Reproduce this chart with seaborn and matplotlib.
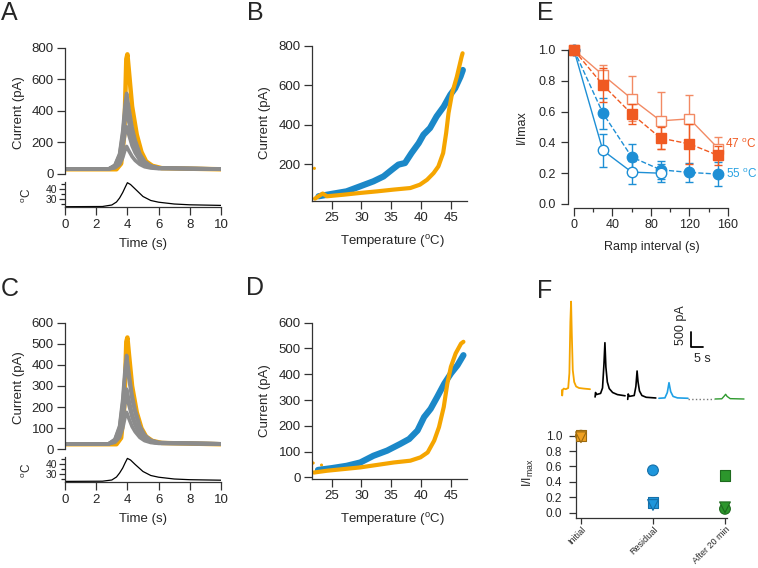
import matplotlib
matplotlib.use("Agg")
import matplotlib.pyplot as plt
import seaborn as sns
from matplotlib.ticker import MultipleLocator

# ---------------- data ----------------
# A: current traces (pA) vs time (s)
t_gray = [0, 2.8, 3.2, 3.5, 3.7, 3.85, 3.95, 4.1, 4.3, 4.5, 4.8, 5.1, 5.5, 6.0, 7.0, 10]
a_gray1 = [32, 32, 56, 128, 272, 440, 512, 416, 296, 214, 128, 80, 51, 39, 37, 32]
a_gray2 = [32, 32, 54, 120, 251, 404, 470, 382, 273, 198, 120, 76, 50, 39, 36, 32]
a_gray3 = [32, 32, 50, 106, 216, 345, 400, 326, 234, 172, 106, 69, 47, 38, 36, 32]
a_gray4 = [32, 32, 45, 86, 166, 260, 300, 246, 179, 134, 86, 59, 43, 36, 35, 32]
a_gray5 = [32, 32, 39, 61, 104, 154, 175, 146, 111, 86, 61, 46, 38, 34, 34, 32]
t_yel = [0, 3.3, 3.6, 3.8, 3.93, 4.0, 4.1, 4.3, 4.6, 4.9, 5.2, 5.6, 6.2, 10]
a_yel = [30, 30, 66, 250, 730, 760, 650, 430, 250, 140, 80, 52, 37, 30]

# C: current traces
c_gray1 = [26, 26, 47, 110, 236, 382, 445, 361, 256, 185, 110, 68, 43, 32, 30, 26]
c_gray2 = [26, 26, 45, 103, 218, 352, 410, 333, 237, 172, 103, 64, 41, 32, 30, 26]
c_gray3 = [26, 26, 39, 78, 156, 246, 285, 233, 168, 124, 78, 52, 36, 30, 29, 26]
c_gray4 = [26, 26, 37, 72, 141, 221, 255, 209, 152, 113, 72, 49, 35, 29, 28, 26]
c_gray5 = [26, 26, 33, 56, 100, 153, 175, 145, 108, 83, 56, 41, 32, 28, 27, 26]
c_yel = [24, 24, 54, 200, 510, 530, 450, 300, 175, 100, 60, 40, 30, 24]

# temperature stimulus (deg C)
t_temp = [0, 2.4, 3.0, 3.3, 3.5, 3.7, 3.85, 4.0, 4.2, 4.5, 5.0, 5.5, 6.0, 7.0, 8.0, 10]
a_temp = [22.3, 22.5, 24, 27, 31, 36.5, 41.5, 46.3, 44.5, 40, 32.5, 28.5, 26.8, 25, 24.2, 23.6]
c_temp = [22.6, 22.8, 24, 27, 31, 36, 41, 45.6, 44, 39.5, 32.5, 28.5, 26.8, 25, 24.3, 23.8]

# B: current vs temperature
b_blue_T = [22.8, 25, 27.5, 29.8, 32, 33.7, 35.1, 36.2, 37.3, 38.4, 39.6, 40.4, 41.5, 42.6, 43.8, 44.9, 45.7, 46.6, 47.0]
b_blue_I = [36, 48, 61, 87, 112, 137, 171, 197, 205, 256, 306, 349, 383, 442, 492, 552, 585, 644, 678]
b_yel_T = [22.2, 23.5, 24.2, 27, 29.8, 32.6, 35.4, 38.2, 39.8, 41, 42.1, 42.9, 43.7, 44.2, 44.6, 45.2, 46, 46.8, 46.96]
b_yel_I = [24, 50, 36, 44, 53, 61, 70, 78, 95, 120, 154, 188, 256, 357, 459, 560, 644, 746, 763]
b_dot_T = [22.1]
b_dot_I = [178]

# D: current vs temperature
d_blue_T = [22.7, 25, 27.5, 29.8, 32, 34.3, 36.5, 38, 39.4, 40.5, 41.6, 42.7, 43.9, 45, 46.1, 47.1]
d_blue_I = [29, 36, 45, 58, 84, 104, 130, 149, 182, 234, 266, 312, 364, 403, 435, 474]
d_yel_T = [22, 24.2, 29.8, 35.4, 38.2, 39.9, 41.1, 42.2, 43, 43.8, 44.4, 45, 45.8, 46.7, 47.1]
d_yel_I = [19, 26, 39, 58, 65, 78, 97, 143, 195, 273, 364, 429, 481, 519, 526]
d_dot_T = [21.9, 23.3]
d_dot_I = [56, 48]

# E: I/Imax vs ramp interval
ramp = [0, 30, 60, 90, 120, 150]
ramp_short = [0, 30, 60, 90]
sq_open = [1.0, 0.838, 0.683, 0.54, 0.553, 0.36]
sq_open_err = [0, 0.065, 0.145, 0.185, 0.155, 0.075]
sq_fill = [1.0, 0.773, 0.585, 0.428, 0.39, 0.315]
sq_fill_err = [0, 0.11, 0.065, 0.07, 0.13, 0.06]
ci_fill = [1.0, 0.59, 0.305, 0.222, 0.205, 0.194]
ci_fill_err = [0, 0.1, 0.085, 0.06, 0.06, 0.08]
ci_open = [1.0, 0.348, 0.207, 0.2]
ci_open_err = [0, 0.105, 0.075, 0.06]

# F top: example traces (s, pA)
f_yel_t = [2.9, 3.0, 3.2, 3.6, 4.5, 5.5, 6.0, 6.4, 6.7, 7.0, 7.4, 8.0, 8.8, 10, 12, 14.6]
f_yel_y = [330, 150, 330, 380, 360, 400, 900, 2600, 3280, 2200, 1000, 600, 450, 400, 380, 360]
f_blk1_t = [16.7, 16.9, 17.2, 19.0, 19.8, 20.4, 20.8, 21.2, 21.8, 22.6, 24, 26, 29.2]
f_blk1_y = [100, 250, 180, 220, 400, 1200, 1910, 1100, 600, 380, 250, 180, 140]
f_blk2_t = [30.3, 30.5, 31, 33, 33.7, 34.2, 34.6, 35.2, 36.2, 38, 42]
f_blk2_y = [20, 200, 120, 150, 450, 967, 600, 300, 150, 90, 67]
f_blue_t = [43.3, 45.8, 46.8, 47.5, 48.2, 49.2, 51, 55.4]
f_blue_y = [57, 70, 250, 577, 280, 120, 70, 57]
f_gap_t = [55.4, 66.3]
f_gap_y = [40, 40]
f_grn_t = [66.7, 69.5, 70.5, 71.1, 71.7, 73, 78.75]
f_grn_y = [33, 40, 130, 190, 120, 45, 33]

# F bottom: I/Imax per condition
f_cats = ["Initial", "Residual", "After 20 min"]
f_circle = [1.0, 0.55, 0.05]
f_square = [1.0, 0.13, 0.48]
f_tri = [0.98, 0.10, 0.07]

YEL = "#F5A500"
GRAY = "#8C8C8C"
BLUE = "#1B88C8"
ORG = "#F05A22"
ORG_L = "#F28A64"
EBLUE = "#1E8FD5"

sns.set_style("ticks")
plt.rcParams['font.family'] = ['Liberation Sans', 'DejaVu Sans']
plt.rcParams['mathtext.fontset'] = 'custom'
plt.rcParams['mathtext.rm'] = 'Liberation Sans'
plt.rcParams['mathtext.it'] = 'Liberation Sans:italic'

W, H = 758, 568
fig = plt.figure(figsize=(W / 100, H / 100), dpi=100)


def box(x0, y0, x1, y1):
    return [x0 / W, 1 - y1 / H, (x1 - x0) / W, (y1 - y0) / H]


def ftext(x, y, s, **kw):
    kw.setdefault("ha", "center")
    kw.setdefault("va", "center")
    fig.text(x / W, 1 - y / H, s, **kw)


def style(ax, size=9.5):
    for s in ["top", "right"]:
        ax.spines[s].set_visible(False)
    for s in ["left", "bottom"]:
        ax.spines[s].set_color("#333333")
        ax.spines[s].set_linewidth(0.9)
    ax.tick_params(labelsize=size, length=5.5, width=0.9, pad=2.5, color="#333333")
    ax.set_xlabel("")
    ax.set_ylabel("")


def line(ax, x, y, color, lw, **kw):
    sns.lineplot(x=x, y=y, ax=ax, color=color, lw=lw, sort=False, estimator=None, **kw)


# ---------------- A and C ----------------
panels = [
    (48, 174, 182, 207, 800, 200, a_yel, [a_gray1, a_gray2, a_gray3, a_gray4, a_gray5], a_temp),
    (322.7, 449.3, 457, 482, 600, 100, c_yel, [c_gray1, c_gray2, c_gray3, c_gray4, c_gray5], c_temp),
]
for top, bot, ttop, tbot, ymax, ystep, yel, grays, temp in panels:
    ax = fig.add_axes(box(65, top, 221, bot))
    line(ax, t_yel, yel, YEL, 3.2)
    for g in grays:
        line(ax, t_gray, g, GRAY, 2.6)
    ax.set_xlim(0, 10)
    ax.set_ylim(0, ymax)
    style(ax)
    ax.spines["bottom"].set_visible(False)
    ax.set_xticks([])
    ax.yaxis.set_major_locator(MultipleLocator(ystep))

    axt = fig.add_axes(box(65, ttop, 221, tbot))
    line(axt, t_temp, temp, "black", 0.9)
    axt.set_xlim(0, 10)
    axt.set_ylim(22, 47)
    style(axt)
    axt.set_yticks([30, 40])
    axt.yaxis.set_minor_locator(MultipleLocator(5))
    axt.tick_params(axis="y", which="minor", length=3, width=0.9)
    axt.tick_params(axis="y", labelsize=7.5, pad=1.5, length=4)
    axt.set_xticks([0, 2, 4, 6, 8, 10])
    axt.tick_params(axis="x", pad=3)

ftext(19, 113, "Current (pA)", rotation=90, fontsize=9.5)
ftext(27, 195, "$^{\\mathrm{o}}$C", rotation=90, fontsize=8.5)
ftext(143, 244, "Time (s)", fontsize=9.5)
ftext(19, 388, "Current (pA)", rotation=90, fontsize=9.5)
ftext(27, 470, "$^{\\mathrm{o}}$C", rotation=90, fontsize=8.5)
ftext(143, 519, "Time (s)", fontsize=9.5)

# ---------------- B and D ----------------
for top, bot, ylim, yt, bT, bI, yT, yI, dT, dI in [
    (46, 201, (12, 800), [200, 400, 600, 800], b_blue_T, b_blue_I, b_yel_T, b_yel_I, b_dot_T, b_dot_I),
    (322.7, 479, (-6, 600), [0, 100, 200, 300, 400, 500, 600], d_blue_T, d_blue_I, d_yel_T, d_yel_I, d_dot_T, d_dot_I),
]:
    ax = fig.add_axes(box(312, top, 467, bot))
    line(ax, bT, bI, BLUE, 4.5)
    line(ax, yT, yI, YEL, 3.0)
    sns.scatterplot(x=dT, y=dI, ax=ax, color=YEL, s=5, edgecolor="none")
    ax.set_xlim(21.7, 47.7)
    ax.set_ylim(*ylim)
    style(ax)
    ax.set_yticks(yt)
    ax.set_xticks([25, 30, 35, 40, 45])

ftext(265, 123, "Current (pA)", rotation=90, fontsize=9.5)
ftext(392, 242, "Temperature ($^{\\mathrm{o}}$C)", fontsize=9.5)
ftext(265, 401, "Current (pA)", rotation=90, fontsize=9.5)
ftext(392, 519, "Temperature ($^{\\mathrm{o}}$C)", fontsize=9.5)

# ---------------- E ----------------
ax = fig.add_axes(box(568, 50, 728, 204))
series = [
    (ramp, ci_fill, ci_fill_err, "o", EBLUE, EBLUE, "--"),
    (ramp_short, ci_open, ci_open_err, "o", EBLUE, "white", "-"),
    (ramp, sq_open, sq_open_err, "s", ORG_L, "white", "-"),
    (ramp, sq_fill, sq_fill_err, "s", ORG, ORG, "--"),
]
for x, y, e, m, c, fc, ls in series:
    ax.errorbar(x, y, yerr=e, fmt="none", ecolor=c, elinewidth=1, capsize=3, capthick=1)
    sns.lineplot(x=x, y=y, ax=ax, color=c, lw=1, linestyle=ls, marker=m, markersize=7.5,
                 markerfacecolor=fc, markeredgecolor=c, markeredgewidth=1,
                 sort=False, estimator=None)
ax.set_xlim(-6.2, 160)
ax.set_ylim(0, 1.0)
style(ax, 9)
ax.tick_params(axis="y", length=5, pad=4)
ax.spines["bottom"].set_position(("outward", 3))
ax.spines["bottom"].set_bounds(0, 160)
ax.set_xticks([0, 40, 80, 120, 160])
ax.xaxis.set_minor_locator(MultipleLocator(20))
ax.tick_params(axis="x", which="minor", length=3, width=0.9, color="#333333")
ax.set_yticks([0, 0.2, 0.4, 0.6, 0.8, 1.0])
ax.set_yticklabels(["0.0", "0.2", "0.4", "0.6", "0.8", "1.0"])
for a in ax.get_children():
    if hasattr(a, "set_clip_on"):
        a.set_clip_on(False)
ftext(522, 127, "I/Imax", rotation=90, fontsize=9)
ftext(652, 247, "Ramp interval (s)", fontsize=9)
ftext(725, 144, "47 $^{\\mathrm{o}}$C", fontsize=8.5, ha="left", color=ORG)
ftext(726, 174, "55 $^{\\mathrm{o}}$C", fontsize=8.5, ha="left", color="#2AA2E2")

# ---------------- F top ----------------
ax = fig.add_axes(box(555, 295, 750, 405))
line(ax, f_yel_t, f_yel_y, YEL, 1.3)
line(ax, f_blk1_t, f_blk1_y, "black", 1.2)
line(ax, f_blk2_t, f_blk2_y, "black", 1.2)
line(ax, f_blue_t, f_blue_y, "#1EA0E6", 1.2)
line(ax, f_gap_t, f_gap_y, "#777777", 1.0, linestyle=":")
line(ax, f_grn_t, f_grn_y, "#2E9A2E", 1.0)
line(ax, [56.7, 56.7, 61.7], [2277, 1777, 1777], "black", 1.3)
ax.set_xlim(0, 81.25)
ax.set_ylim(-167, 3500)
ax.axis("off")
ftext(681, 325, "500 pA", rotation=90, fontsize=9)
ftext(702, 359, "5 s", fontsize=9)

# ---------------- F bottom ----------------
ax = fig.add_axes(box(576, 435.7, 727, 517.7))
f_cols = ["#F0A020", "#1E96DC", "#2C962C"]
f_edges = ["#9A6A10", "#156FA8", "#1E6A1E"]
xs = [0, 1, 2]
for vals, m in [(f_circle, "o"), (f_square, "s"), (f_tri, "v")]:
    sns.scatterplot(x=xs, y=vals, ax=ax, marker=m, s=60, hue=f_cats, palette=f_cols,
                    edgecolor=f_edges, linewidth=0.8, legend=False, clip_on=False, zorder=3)
ax.set_xlim(-0.069, 2.028)
ax.set_ylim(-0.065, 1.0)
style(ax, 8.5)
ax.tick_params(axis="y", length=5, pad=5)
ax.tick_params(axis="x", length=4, pad=1)
ax.spines["bottom"].set_bounds(-0.069, 2.028)
ax.set_xticks(xs)
ax.set_xticklabels(f_cats, rotation=45, ha="right", rotation_mode="anchor", fontsize=6.5)
ax.set_yticks([0, 0.2, 0.4, 0.6, 0.8, 1.0])
ax.set_yticklabels(["0.0", "0.2", "0.4", "0.6", "0.8", "1.0"])
ftext(528, 473, "I/I$_{\\mathrm{max}}$", rotation=90, fontsize=9)

# panel letters
for x, y, s in [(9.5, 13, "A"), (255, 13, "B"), (10, 289, "C"), (255, 288, "D"),
                (545, 13, "E"), (545, 291.5, "F")]:
    ftext(x, y, s, fontsize=18)

fig.savefig("out.png", dpi=100)
